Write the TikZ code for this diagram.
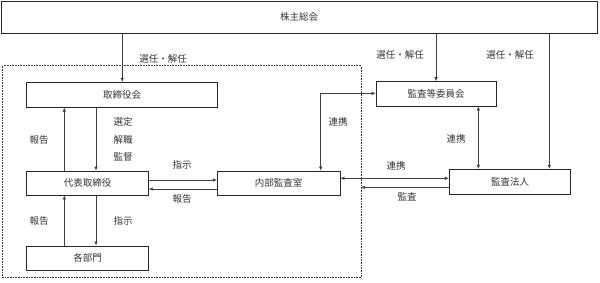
\documentclass[tikz,border=0pt]{standalone}
\usepackage{fontspec}
\setmainfont{Noto Sans CJK JP}
\usetikzlibrary{arrows.meta,calc}
\begin{document}
\begin{tikzpicture}[x=1pt,y=-1pt,
  box/.style={draw=black!85,line width=0.8pt,inner sep=0pt,font=\fontsize{9.5}{11}\selectfont,text=black!80},
  lbl/.style={inner sep=0pt,font=\fontsize{9.5}{11}\selectfont,text=black!80},
  arr/.style={draw=black!75,line width=0.6pt,-{Latex[length=4pt,width=3.5pt]}},
  darr/.style={draw=black!75,line width=0.6pt,{Latex[length=4pt,width=3.5pt]}-{Latex[length=4pt,width=3.5pt]}}]
\useasboundingbox (0,0) rectangle (600,283);
% frame
\draw[black!80,densely dotted,line width=0.6pt] (2.7,65.7) rectangle (361,277.7);
% boxes
\node[box,minimum width=596pt,minimum height=32pt] (soukai) at (299,17) {株主総会};
\node[box,minimum width=191pt,minimum height=25pt] (tori) at (122.2,94.8) {取締役会};
\node[box,minimum width=121.6pt,minimum height=24pt] (daihyo) at (87.5,183) {代表取締役};
\node[box,minimum width=121.6pt,minimum height=24.7pt] (kakubu) at (87.5,258.3) {各部門};
\node[box,minimum width=122.7pt,minimum height=24pt] (naibu) at (278.7,183) {内部監査室};
\node[box,minimum width=120pt,minimum height=24.3pt] (iinkai) at (436,93.8) {監査等委員会};
\node[box,minimum width=121.4pt,minimum height=25pt] (hojin) at (510,181.8) {監査法人};
% helper coordinates
\coordinate (xa) at (64.3,0);
\coordinate (xb) at (96,0);
\coordinate (xh) at (549.3,0);
\coordinate (xi) at (478.3,0);
\coordinate (xn) at (320.7,0);
\coordinate (ya) at (0,180);
\coordinate (yb) at (0,189);
\coordinate (yc) at (0,178.3);
\coordinate (yd) at (0,187.3);
\coordinate (ye) at (0,93.3);
\coordinate (frameR) at (361,187.3);
% connectors
\draw[arr] (tori.north |- soukai.south) -- (tori.north);
\draw[arr] (iinkai.north |- soukai.south) -- (iinkai.north);
\draw[arr] (xh |- soukai.south) -- (xh |- hojin.north);
\draw[arr] (xb |- tori.south) -- (xb |- daihyo.north);
\draw[arr] (xa |- daihyo.north) -- (xa |- tori.south);
\draw[arr] (xa |- kakubu.north) -- (xa |- daihyo.south);
\draw[arr] (xb |- daihyo.south) -- (xb |- kakubu.north);
\draw[arr] (daihyo.east |- ya) -- (naibu.west |- ya);
\draw[arr] (naibu.west |- yb) -- (daihyo.east |- yb);
\draw[darr] (xn |- naibu.north) -- (xn |- ye) -- (iinkai.west |- ye);
\draw[darr] (xi |- iinkai.south) -- (xi |- hojin.north);
\draw[darr] (naibu.east |- yc) -- (hojin.west |- yc);
\draw[arr] (hojin.west |- yd) -- (frameR);
% labels
\node[lbl] (l1) at (163,59) {選任・解任};
\node[lbl] (l2) at (400,55) {選任・解任};
\node[lbl] (l3) at (510,55) {選任・解任};
\node[lbl] (l4) at (123,121.7) {選定};
\node[lbl] (l5) at (123,140) {解職};
\node[lbl] (l6) at (123,156.7) {監督};
\node[lbl] (l7) at (39,140) {報告};
\node[lbl] (l8) at (39,221) {報告};
\node[lbl] (l9) at (123,221) {指示};
\node[lbl] (l10) at (182,165) {指示};
\node[lbl] (l11) at (182,199.3) {報告};
\node[lbl] (l12) at (338,121.7) {連携};
\node[lbl] (l13) at (456,139) {連携};
\node[lbl] (l14) at (396,166) {連携};
\node[lbl] (l15) at (407,197) {監査};
\end{tikzpicture}
\end{document}
